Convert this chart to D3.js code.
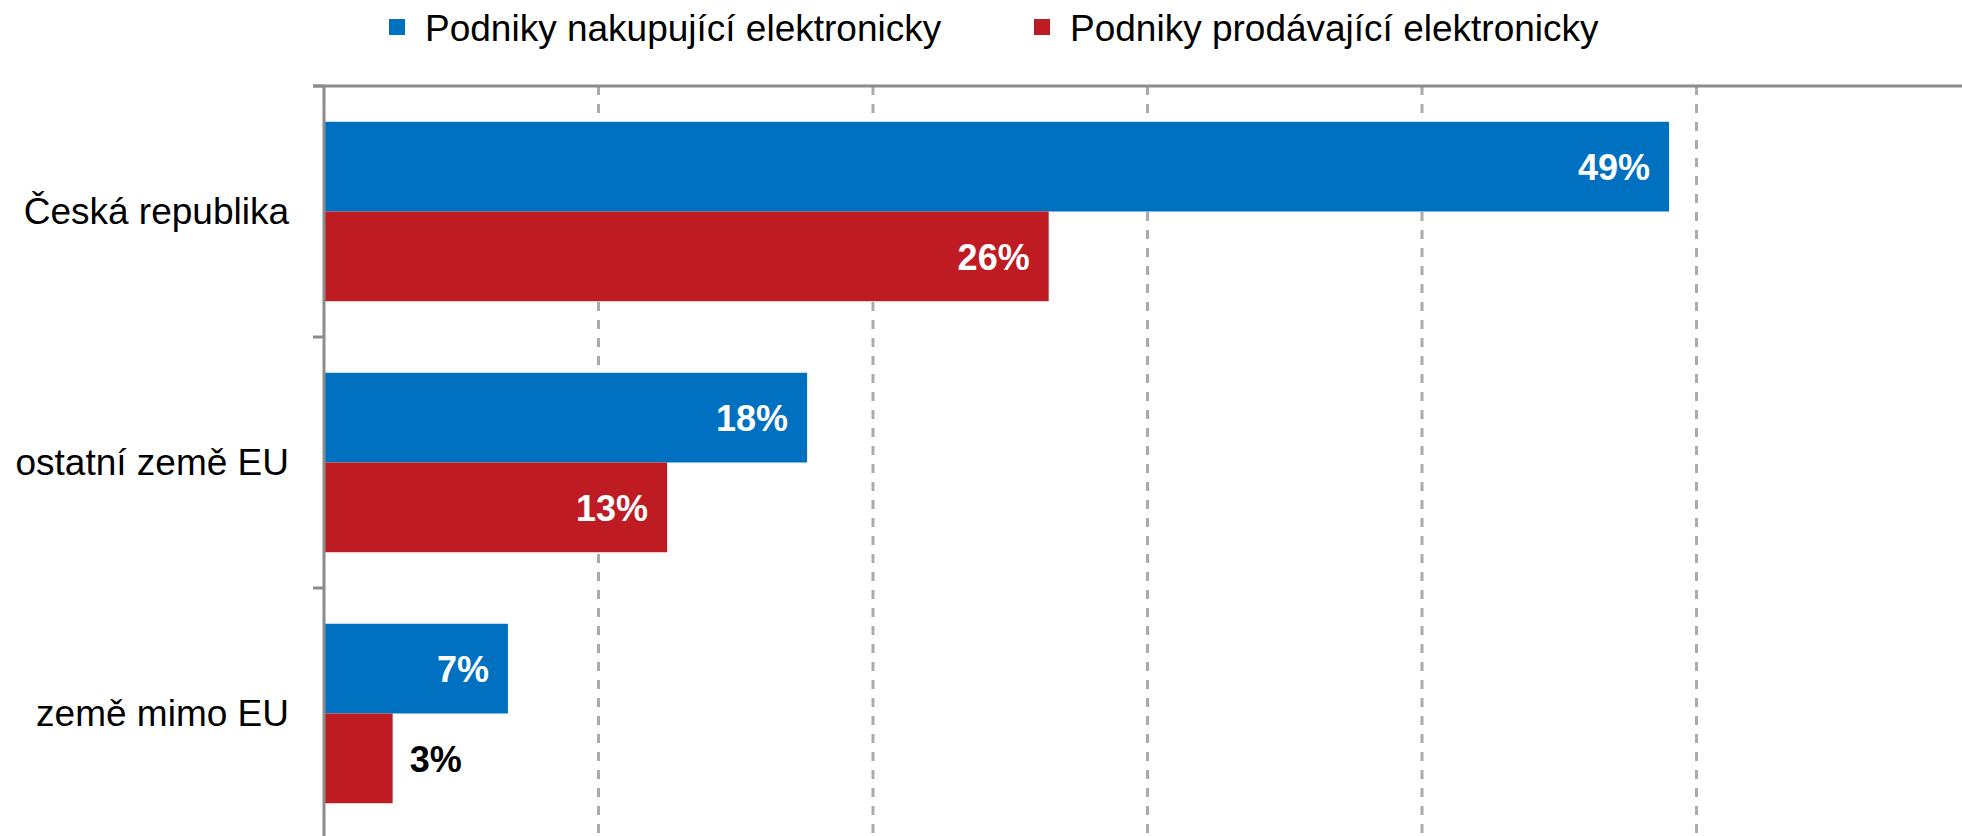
<!DOCTYPE html>
<html>
<head>
<meta charset="utf-8">
<script src="https://cdn.jsdelivr.net/npm/d3@7"></script>
<style>
  html, body { margin: 0; padding: 0; background: #fff; overflow: hidden; }
  svg { display: block; font-family: Arial, "Liberation Sans", sans-serif; }
</style>
</head>
<body>
<svg id="chart" width="1962" height="836"></svg>
<script>
const categories = ["Česká republika", "ostatní země EU", "země mimo EU"];
const seriesNames = ["Podniky nakupující elektronicky", "Podniky prodávající elektronicky"];
const buyingValues = [49.0, 17.6, 6.7];
const sellingValues = [26.4, 12.5, 2.5];
const buyingLabels = ["49%", "18%", "7%"];
const sellingLabels = ["26%", "13%", "3%"];
const xTicks = [10, 20, 30, 40, 50, 60];
const colors = ["#0070C0", "#BE1B22"];

const W = 1962, H = 836;
const svg = d3.select("#chart");

const x = d3.scaleLinear().domain([0, 60]).range([324, 324 + 60 * 27.45]);
const y = d3.scaleBand().domain(categories).range([86, 839])
  .paddingInner(0.285).paddingOuter(0.1425);
const y1 = d3.scaleBand().domain(seriesNames).range([0, y.bandwidth()]);
const step = y.step();

const rows = categories.map((c, i) => ({
  cat: c,
  vals: [
    { s: seriesNames[0], v: buyingValues[i], lab: buyingLabels[i], k: 0 },
    { s: seriesNames[1], v: sellingValues[i], lab: sellingLabels[i], k: 1 }
  ]
}));

// gridlines
svg.append("g").selectAll("line").data(xTicks).join("line")
  .attr("x1", d => x(d)).attr("x2", d => x(d))
  .attr("y1", 86).attr("y2", H)
  .attr("stroke", "#ababab").attr("stroke-width", 3)
  .attr("stroke-dasharray", "9,9");

// top border
svg.append("line").attr("x1", 313).attr("x2", W).attr("y1", 86).attr("y2", 86)
  .attr("stroke", "#8c8c8c").attr("stroke-width", 3);

// bars
const g = svg.append("g");
const groups = g.selectAll("g").data(rows).join("g")
  .attr("transform", d => `translate(0,${y(d.cat)})`);
groups.selectAll("rect").data(d => d.vals).join("rect")
  .attr("x", x(0)).attr("y", d => y1(d.s))
  .attr("width", d => x(d.v) - x(0)).attr("height", y1.bandwidth())
  .attr("fill", d => colors[d.k]);

// value labels
groups.selectAll("text").data(d => d.vals).join("text")
  .attr("x", d => (x(d.v) - x(0) > 80) ? x(d.v) - 19 : x(d.v) + 17)
  .attr("y", d => y1(d.s) + y1.bandwidth() / 2)
  .attr("dy", "0.38em")
  .attr("text-anchor", d => (x(d.v) - x(0) > 80) ? "end" : "start")
  .attr("font-size", 36).attr("font-weight", "bold")
  .attr("fill", d => (x(d.v) - x(0) > 80) ? "#fff" : "#000")
  .text(d => d.lab);

// y axis line and ticks
svg.append("line").attr("x1", 324).attr("x2", 324).attr("y1", 86).attr("y2", H)
  .attr("stroke", "#8c8c8c").attr("stroke-width", 3);
const boundaries = categories.map(c => y(c) - y.paddingOuter() * step).concat([839]);
svg.append("g").selectAll("line").data(boundaries).join("line")
  .attr("x1", 313).attr("x2", 324).attr("y1", d => d).attr("y2", d => d)
  .attr("stroke", "#8c8c8c").attr("stroke-width", 3);

// category labels
svg.append("g").selectAll("text").data(categories).join("text")
  .attr("x", 289).attr("y", d => y(d) + y.bandwidth() / 2)
  .attr("dy", "0.33em").attr("text-anchor", "end")
  .attr("font-size", 37).attr("fill", "#000")
  .text(d => d);

// legend
const legendX = [389, 1034];
const leg = svg.append("g").selectAll("g").data(seriesNames).join("g")
  .attr("transform", (d, i) => `translate(${legendX[i]},0)`);
leg.append("rect").attr("x", 0).attr("y", 19).attr("width", 16).attr("height", 16)
  .attr("fill", (d, i) => colors[i]);
leg.append("text").attr("x", 36).attr("y", 41)
  .attr("font-size", 37).attr("fill", "#000").text(d => d);
</script>
</body>
</html>
